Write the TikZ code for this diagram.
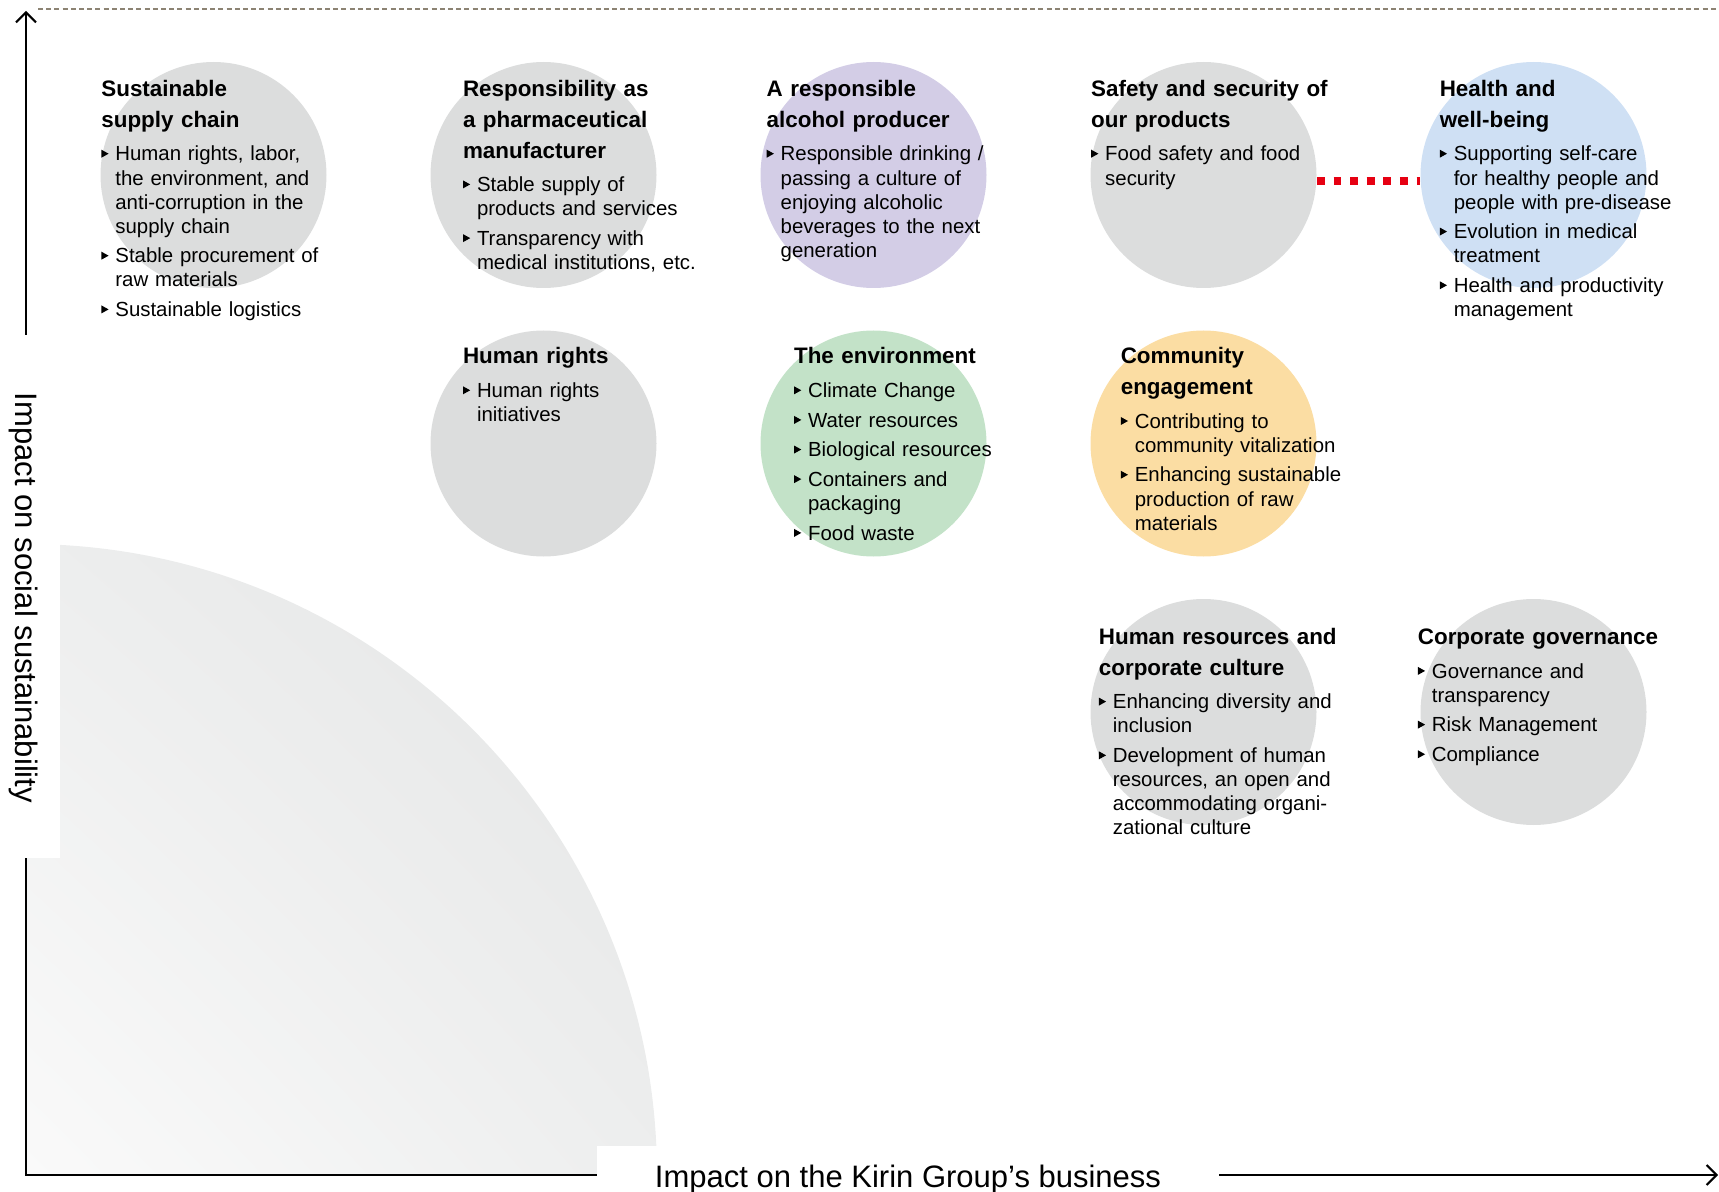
\documentclass[tikz,border=0pt]{standalone}
\usepackage{fontspec}
\setmainfont{Liberation Sans}
\usetikzlibrary{arrows.meta,shadings}
\definecolor{cgray}{RGB}{220,221,221}
\definecolor{clav}{RGB}{211,205,230}
\definecolor{cblue}{RGB}{207,224,244}
\definecolor{cgreen}{RGB}{195,226,200}
\definecolor{corange}{RGB}{251,221,163}
\definecolor{cred}{RGB}{230,0,18}
\definecolor{cdash}{RGB}{140,131,115}
\definecolor{qlight}{RGB}{250,250,250}
\definecolor{qmid}{RGB}{237,238,238}
\definecolor{qdark}{RGB}{227,228,228}
\newcommand\bul{\raisebox{1.6pt}{\tikz\fill (0pt,0pt)--(0pt,4pt)--(3.6pt,2pt)--cycle;}}
% first item (no paragraph break before it)
\newcommand\itmA[1]{\hangindent=7pt\hangafter=1\noindent\makebox[7pt][l]{\bul}#1}
% following items
\newcommand\itm[1]{\par\hangindent=7pt\hangafter=1\noindent\makebox[7pt][l]{\bul}#1}
\tikzset{
  blob/.style={circle, minimum size=113pt, inner sep=0pt, draw=none},
  titletext/.style={anchor=base west, inner sep=0pt, text width=170pt, align=left,
    font=\fontsize{11.2}{15.35}\selectfont\bfseries},
  bodytext/.style={anchor=base west, inner sep=0pt, text width=170pt,
    font=\fontsize{10.2}{12.06}\selectfont},
  axisline/.style={line width=1pt, black},
  axistip/.style={-{Straight Barb[length=5pt,width=10pt,line width=1pt]}},
  axislabel/.style={inner sep=0pt, font=\fontsize{15.5}{18}\selectfont},
  topline/.style={cdash, line width=0.6pt, dash pattern=on 2.5pt off 1.6pt},
  redlink/.style={cred, line width=4.2pt, dash pattern=on 3.9pt off 4.4pt}
}
\begin{document}
\begin{tikzpicture}[x=0.5pt,y=-0.5pt]
\useasboundingbox (0,0) rectangle (1719,1192);
% quarter disc
\shade[lower left=qlight, upper right=qdark, upper left=qmid, lower right=qmid]
  (26,1175) -- (657,1175) arc[start angle=0, end angle=-90, radius=631] -- cycle;
\fill[white] (0,335) rectangle (60,858);
\fill[white] (597,1146) rectangle (1719,1192);
% top dashed line
\coordinate (d1) at (38,9);
\coordinate (d2) at (1719,9);
\draw[topline] (d1) -- (d2);
% circles
\node[blob, fill=cgray]   (c1)  at (213.5,175) {};
\node[blob, fill=cgray]   (c2)  at (543.5,175) {};
\node[blob, fill=clav]    (c3)  at (873.5,175) {};
\node[blob, fill=cgray]   (c4)  at (1203.5,175) {};
\node[blob, fill=cblue]   (c5)  at (1533.5,175) {};
\node[blob, fill=cgray]   (c6)  at (543.5,443.5) {};
\node[blob, fill=cgreen]  (c7)  at (873.5,443.5) {};
\node[blob, fill=corange] (c8)  at (1203.5,443.5) {};
\node[blob, fill=cgray]   (c9)  at (1203.5,712) {};
\node[blob, fill=cgray]   (c10) at (1533.5,712) {};
% red link
\draw[redlink] ([yshift=-3pt]c4.east) -- ([yshift=-3pt]c5.west);
% texts
\node[titletext] (t1) at (101,96.7) {Sustainable\\supply chain};
\node[bodytext] (b1) at (101,160.9) {\setlength{\parskip}{2.75pt}%
  \itmA{Human rights, labor,\newline the environment, and\newline anti-corruption in the\newline supply chain}%
  \itm{Stable procurement of\newline raw materials}%
  \itm{Sustainable logistics}\par};
\node[titletext] (t2) at (462.6,96.7) {Responsibility as\\a pharmaceutical\\manufacturer};
\node[bodytext] (b2) at (462.6,191.6) {\setlength{\parskip}{2.75pt}%
  \itmA{Stable supply of\newline products and services}%
  \itm{Transparency with\newline medical institutions, etc.}\par};
\node[titletext] (t3) at (766.3,96.7) {A responsible\\alcohol producer};
\node[bodytext] (b3) at (766.3,160.9) {\setlength{\parskip}{2.75pt}%
  \itmA{Responsible drinking /\newline passing a culture of\newline enjoying alcoholic\newline beverages to the next\newline generation}\par};
\node[titletext] (t4) at (1090.8,96.7) {Safety and security of\\our products};
\node[bodytext] (b4) at (1090.8,160.9) {\setlength{\parskip}{2.75pt}%
  \itmA{Food safety and food\newline security}\par};
\node[titletext] (t5) at (1439.4,96.7) {Health and\\well-being};
\node[bodytext] (b5) at (1439.4,160.9) {\setlength{\parskip}{2.75pt}%
  \itmA{Supporting self-care\newline for healthy people and\newline people with pre-disease}%
  \itm{Evolution in medical\newline treatment}%
  \itm{Health and productivity\newline management}\par};
\node[titletext] (t6) at (462.6,364) {Human rights};
\node[bodytext] (b6) at (462.6,397.5) {\setlength{\parskip}{2.75pt}%
  \itmA{Human rights\newline initiatives}\par};
\node[titletext] (t7) at (793.7,364) {The environment};
\node[bodytext] (b7) at (793.7,397.5) {\setlength{\parskip}{2.75pt}%
  \itmA{Climate Change}%
  \itm{Water resources}%
  \itm{Biological resources}%
  \itm{Containers and\newline packaging}%
  \itm{Food waste}\par};
\node[titletext] (t8) at (1120.4,364) {Community\\engagement};
\node[bodytext] (b8) at (1120.4,428.2) {\setlength{\parskip}{2.75pt}%
  \itmA{Contributing to\newline community vitalization}%
  \itm{Enhancing sustainable\newline production of raw\newline materials}\par};
\node[titletext] (t9) at (1098.5,644.6) {Human resources and\\corporate culture};
\node[bodytext] (b9) at (1098.5,708.8) {\setlength{\parskip}{2.75pt}%
  \itmA{Enhancing diversity and\newline inclusion}%
  \itm{Development of human\newline resources, an open and\newline accommodating organi-\newline zational culture}\par};
\node[titletext] (t10) at (1417.5,644.6) {Corporate governance};
\node[bodytext] (b10) at (1417.5,678.1) {\setlength{\parskip}{2.75pt}%
  \itmA{Governance and\newline transparency}%
  \itm{Risk Management}%
  \itm{Compliance}\par};
% axes
\coordinate (o) at (26,1175);
\coordinate (ytop) at (26,11);
\coordinate (yg1) at (26,858);
\coordinate (yg2) at (26,335);
\coordinate (xg1) at (597,1175);
\coordinate (xg2) at (1219,1175);
\coordinate (xend) at (1718,1175);
\draw[axisline] (yg1) -- (o) -- (xg1);
\draw[axisline, axistip] (yg2) -- (ytop);
\draw[axisline, axistip] (xg2) -- (xend);
\node[axislabel, rotate=-90, anchor=base] (ylab) at (15,598) {Impact on social sustainability};
\node[axislabel, anchor=base] (xlab) at (908,1187) {Impact on the Kirin Group’s business};
\end{tikzpicture}
\end{document}
